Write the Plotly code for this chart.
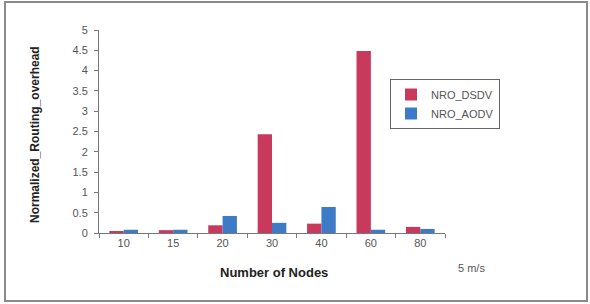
import plotly.graph_objects as go

categories = ["10", "15", "20", "30", "40", "60", "80"]
nro_dsdv = [0.03, 0.07, 0.19, 2.43, 0.23, 4.48, 0.15]
nro_aodv = [0.08, 0.08, 0.42, 0.25, 0.64, 0.08, 0.10]
y_ticks = [0, 0.5, 1, 1.5, 2, 2.5, 3, 3.5, 4, 4.5, 5]

W, H = 590, 304
L, R, T, B = 99, 445, 30, 233

def px(x):
    return (x - L) / (R - L)

def py(y):
    return (B - y) / (B - T)

fig = go.Figure()
fig.add_trace(go.Bar(x=categories, y=nro_dsdv, name="NRO_DSDV",
                     marker=dict(color="#C8395C", line=dict(width=0))))
fig.add_trace(go.Bar(x=categories, y=nro_aodv, name="NRO_AODV",
                     marker=dict(color="#3D7BC6", line=dict(width=0))))

font = "Liberation Sans, Arial, sans-serif"
fig.update_layout(
    width=W, height=H,
    margin=dict(l=L, r=W - R, t=T, b=H - B, pad=0),
    paper_bgcolor="white", plot_bgcolor="white",
    barmode="group", bargap=0.42, bargroupgap=0,
    font=dict(family=font, size=11, color="#555555"),
    showlegend=True,
    legend=dict(x=px(390), y=py(79), xanchor="left", yanchor="top",
                bordercolor="#666666", borderwidth=1, bgcolor="white",
                font=dict(size=11, color="#555555"), itemwidth=30,
                tracegroupgap=2),
    xaxis=dict(type="category", showline=True, linecolor="#777777", linewidth=1,
               ticks="outside", ticklen=4, tickcolor="#777777", tickson="boundaries",
               showgrid=False, zeroline=False,
               tickfont=dict(size=11, color="#555555")),
    yaxis=dict(range=[0, 5], tickvals=y_ticks, ticktext=[f"{v:g}" for v in y_ticks],
               showline=True, linecolor="#777777", linewidth=1,
               ticks="outside", ticklen=4, tickcolor="#777777",
               showgrid=False, zeroline=False, ticklabelstandoff=4,
               tickfont=dict(size=11, color="#555555")),
    shapes=[dict(type="rect", xref="paper", yref="paper",
                 x0=px(5), x1=px(587), y0=py(301), y1=py(2),
                 line=dict(color="#8a8a8a", width=2), layer="below")],
    annotations=[
        dict(text="5 m/s", xref="paper", yref="paper",
             x=px(471), y=py(268), xanchor="center", yanchor="middle",
             showarrow=False, font=dict(size=11, color="#555555")),
        dict(text="<b>Number of Nodes</b>", xref="paper", yref="paper",
             x=px(274), y=py(272), xanchor="center", yanchor="middle",
             showarrow=False, font=dict(size=13, color="#222222")),
        dict(text="<b>Normalized_Routing_overhead</b>", xref="paper", yref="paper",
             x=px(26), y=py(135), showarrow=False, textangle=-90,
             font=dict(size=12, color="#222222")),
    ],
)

fig.write_html("out.html", config={"displayModeBar": False},
               post_script="document.body.style.margin='0';document.body.style.overflow='hidden';")
